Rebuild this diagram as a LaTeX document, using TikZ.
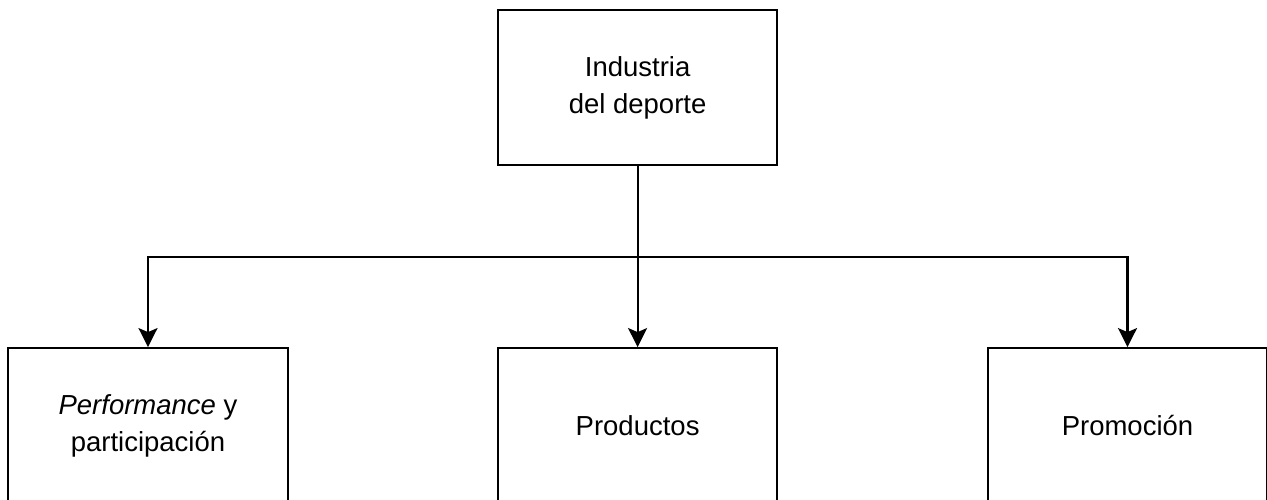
\documentclass[tikz,border=0pt]{standalone}
\usepackage{fontspec}
\setmainfont{Liberation Sans}
\usetikzlibrary{arrows.meta}
\begin{document}
\begin{tikzpicture}[x=1pt,y=-1pt,
  box/.style={draw=black, line width=2.2pt, minimum width=279.5pt, minimum height=155pt,
    inner sep=0pt, align=center, font=\fontsize{27.5}{37.5}\selectfont},
  arr/.style={draw=black, line width=2.2pt, -{Stealth[length=19pt,width=19pt,inset=4pt]}},
  link/.style={draw=black, line width=2.2pt}]
\useasboundingbox (0,0) rectangle (1267,500);
\node[box] (top) at (637.6,87.8) {Industria\\del deporte};
\node[box] (left) at (148,425.7) {\textit{Performance} y\\participación};
\node[box] (mid) at (637.6,425.7) {Productos};
\node[box] (right) at (1127.5,425.7) {Promoción};
\coordinate (hub) at (637.6,256.7);
\draw[link] (top.south) -- (hub);
\draw[arr] (hub) -| (left.north);
\draw[arr] (hub) -- (mid.north);
\draw[arr] (hub) -| (right.north);
\end{tikzpicture}
\end{document}
